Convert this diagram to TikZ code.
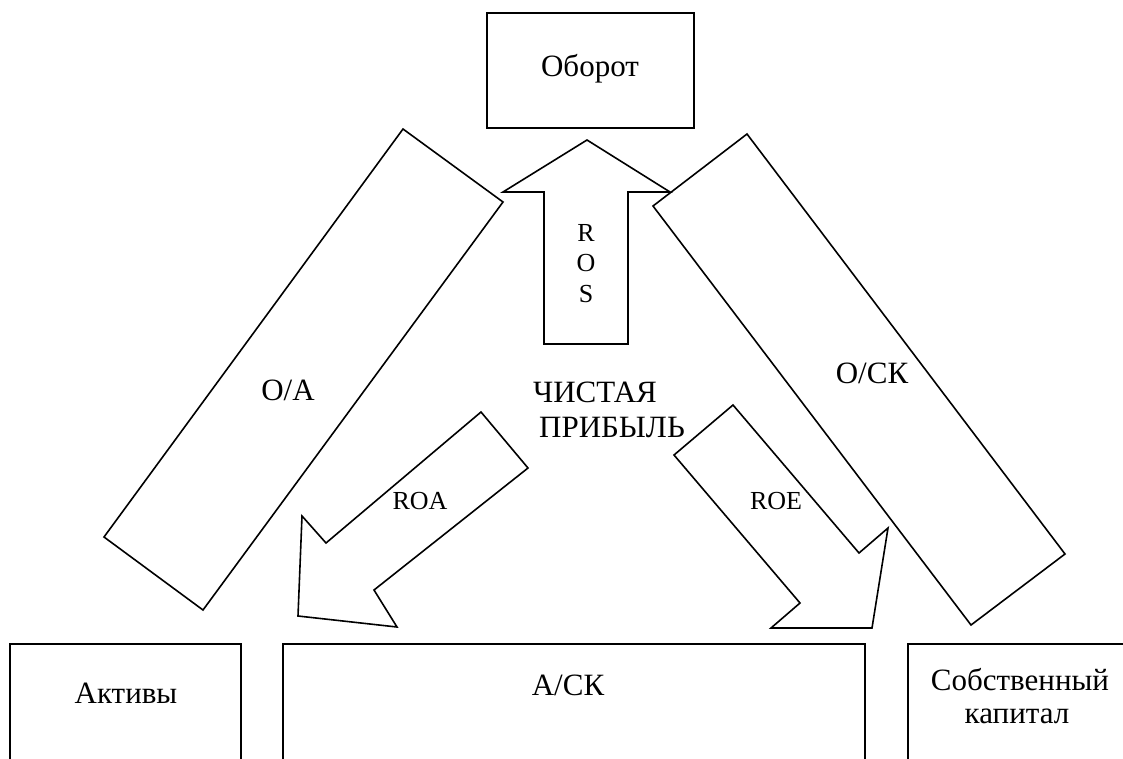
\documentclass[tikz,border=0pt]{standalone}
\usepackage{fontspec}
\setmainfont{Liberation Serif}
\begin{document}
\begin{tikzpicture}[x=1pt,y=-1pt,
  shapeline/.style={draw=black,line width=1.6pt,line join=miter},
  boxnode/.style={draw=black,line width=1.6pt},
  bigtext/.style={anchor=base,inner sep=0pt,font=\fontsize{31}{36}\selectfont},
  smalltext/.style={anchor=base,inner sep=0pt,font=\fontsize{26}{30}\selectfont}]
\useasboundingbox (0,0) rectangle (1123,758);
\clip (0,0) rectangle (1123,758);
% boxes
\draw[boxnode] (487,13) rectangle (694,128);
\node[bigtext] (oborot) at (590,76) {Оборот};
\draw[boxnode] (10,644) rectangle (241,775);
\node[bigtext] (aktivy) at (126,703) {Активы};
\draw[boxnode] (283,644) rectangle (865,775);
\node[bigtext] (ask) at (568,695) {А/СК};
\draw[boxnode] (908,644) rectangle (1135,775);
\node[bigtext] (sobst) at (1020,690) {Собственный};
\node[bigtext] (kapital) at (1017,723) {капитал};
% slanted bars
\draw[shapeline] (403,129) -- (503,202) -- (203,610) -- (104,537) -- cycle;
\node[bigtext] (oa) at (288,400) {О/А};
\draw[shapeline] (747,134) -- (653,206) -- (971,625) -- (1065,554) -- cycle;
\node[bigtext] (ock) at (872,383) {О/СК};
% ROS arrow
\draw[shapeline] (587,140) -- (670,192) -- (628,192) -- (628,344) -- (544,344) -- (544,192) -- (503,192) -- cycle;
\node[smalltext] (r) at (586,241) {R};
\node[smalltext] (o) at (586,271) {O};
\node[smalltext] (s) at (586,302) {S};
% ROA arrow
\draw[shapeline] (481,412) -- (528,468) -- (374,590) -- (397,627) -- (298,616) -- (302,516) -- (326,543) -- cycle;
\node[smalltext] (roa) at (420,509) {ROA};
% ROE arrow
\draw[shapeline] (733,405) -- (674,455) -- (800,603) -- (771,628) -- (872,628) -- (888,528) -- (859,553) -- cycle;
\node[smalltext] (roe) at (776,509) {ROE};
% centre text
\node[bigtext] (chist) at (595,402) {ЧИСТАЯ};
\node[bigtext] (prib) at (612,437) {ПРИБЫЛЬ};
\end{tikzpicture}
\end{document}
